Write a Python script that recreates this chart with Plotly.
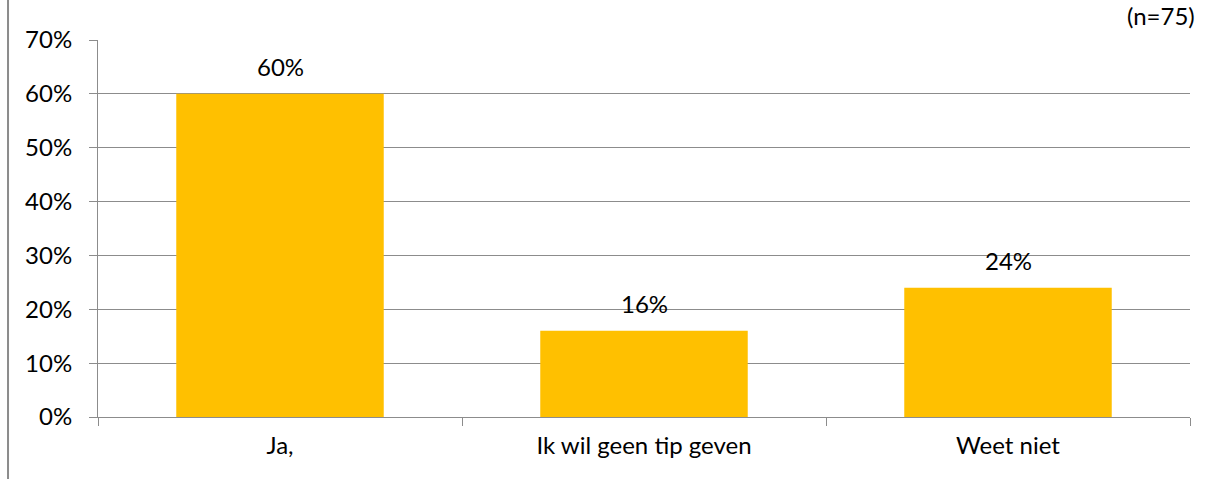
import plotly.graph_objects as go

categories = ["Ja,", "Ik wil geen tip geven", "Weet niet"]
values = [60, 16, 24]
value_labels = ["60%", "16%", "24%"]
y_ticks = [0, 10, 20, 30, 40, 50, 60, 70]
y_tick_labels = ["0%", "10%", "20%", "30%", "40%", "50%", "60%", "70%"]

FONT = "Lato, Calibri, Carlito, sans-serif"
GRID = "#8c8c8c"
FS = 24

fig = go.Figure()
fig.add_trace(go.Bar(x=categories, y=values, marker=dict(color="#FFC000", line=dict(width=0)),
                     hoverinfo="skip"))

for c, v, t in zip(categories, values, value_labels):
    fig.add_annotation(x=c, y=v, text=t, showarrow=False, yshift=27,
                       yanchor="middle", font=dict(size=FS, color="#000000", family=FONT))

fig.add_annotation(xref="paper", yref="paper", x=1.0064, y=1.066, text="(n=75)",
                   showarrow=False, xanchor="right", yanchor="middle",
                   font=dict(size=FS, color="#000000", family=FONT))

fig.add_shape(type="line", xref="paper", yref="paper", x0=-0.0824, x1=-0.0824,
              y0=-0.2, y1=1.2, line=dict(color="#8c8c8c", width=2))

fig.update_layout(
    width=1215, height=479,
    margin=dict(l=98, r=25, t=40, b=62),
    paper_bgcolor="white", plot_bgcolor="white",
    bargap=0.43, showlegend=False,
    font=dict(family=FONT, size=FS, color="#000000"),
    xaxis=dict(showline=True, linecolor=GRID, linewidth=1, ticks="outside", ticklen=8,
               tickcolor=GRID, tickwidth=1, tickson="boundaries", showgrid=False,
               ticklabelstandoff=7,
               tickfont=dict(size=FS, family=FONT), fixedrange=True),
    yaxis=dict(range=[0, 70], tickvals=y_ticks, ticktext=y_tick_labels, showline=True,
               linecolor=GRID, linewidth=1, ticks="outside", ticklen=8, tickcolor=GRID,
               showgrid=True, gridcolor=GRID, gridwidth=1, zeroline=False,
               ticklabelstandoff=12,
               tickfont=dict(size=FS, family=FONT), fixedrange=True),
)

fig.write_html("out.html")
